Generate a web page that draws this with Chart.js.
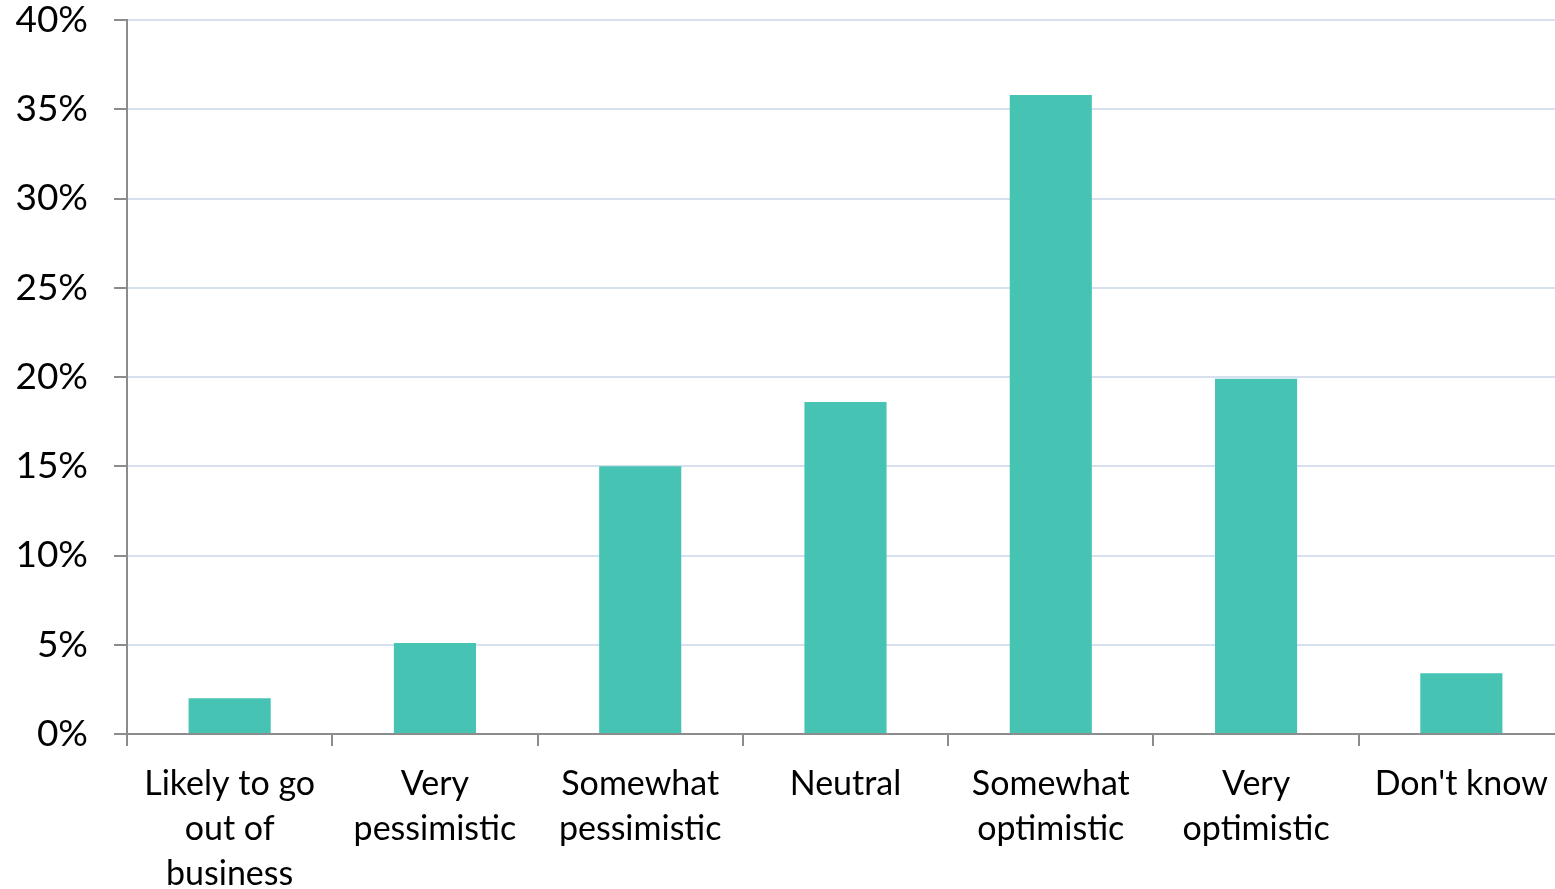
<!DOCTYPE html>
<html><head><meta charset="utf-8">
<script src="https://cdn.jsdelivr.net/npm/chart.js@4.4.1/dist/chart.umd.min.js"></script>
<style>html,body{margin:0;padding:0;background:#fff;}#wrap{width:1555px;height:889px;position:relative;}</style>
</head><body><div id="wrap"><canvas id="c"></canvas></div>
<script>
const categories = [
  ["Likely to go","out of","business"],
  ["Very","pessimistic"],
  ["Somewhat","pessimistic"],
  ["Neutral"],
  ["Somewhat","optimistic"],
  ["Very","optimistic"],
  ["Don't know"]
];
const values = [2.0, 5.1, 15.0, 18.6, 35.8, 19.9, 3.4];
const yTicks = [0,5,10,15,20,25,30,35,40];

const FONT = "Lato, 'Open Sans', sans-serif";
const extendX = {
  id: 'extendX',
  afterLayout(chart) {
    const x = chart.scales.x;
    x.right = x.left + 1437;
    x.width = 1437;
    x.configure();
  }
};
new Chart(document.getElementById('c'), {
  type: 'bar',
  data: { labels: categories, datasets: [{ data: values, backgroundColor: '#47c3b4', borderWidth: 0,
    categoryPercentage: 1.0, barPercentage: 0.4 }] },
  plugins: [extendX],
  options: {
    responsive: true, maintainAspectRatio: false, animation: false,
    layout: { padding: { top: 0, right: 0, left: 0, bottom: 0 } },
    plugins: { legend: { display: false }, tooltip: { enabled: false } },
    scales: {
      x: {
        offset: true,
        grid: { offset: true, drawOnChartArea: false, tickLength: 12, tickColor: '#8c8c8c', lineWidth: 2 },
        border: { color: '#8c8c8c', width: 2 },
        ticks: { color: '#000', font: { family: FONT, size: 34, lineHeight: 1.32 }, padding: 16, maxRotation: 0, autoSkip: false },
        afterFit: s => { s.height = 155; s.paddingLeft = 0; s.paddingRight = 0; }
      },
      y: {
        min: 0, max: 40,
        afterBuildTicks: s => { s.ticks = yTicks.map(v => ({ value: v })); },
        grid: { color: '#d6e0ee', lineWidth: 2, tickLength: 13, tickColor: '#8c8c8c' },
        border: { color: '#8c8c8c', width: 2 },
        ticks: { color: '#000', font: { family: FONT, size: 37 }, padding: 26, callback: v => v + '%' },
        afterFit: s => { s.width = 127; s.paddingTop = 20; s.paddingBottom = 0; }
      }
    }
  }
});
</script></body></html>
